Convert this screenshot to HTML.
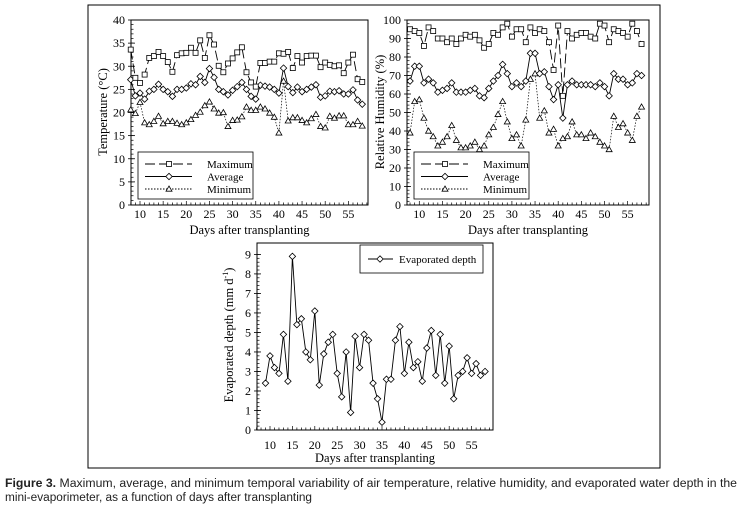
<!DOCTYPE html>
<html><head><meta charset="utf-8"><style>
html,body{margin:0;padding:0;background:#fff;}
svg{display:block;font-family:"Liberation Serif",serif;}
</style></head><body>
<svg id="fig" width="750" height="505" viewBox="0 0 750 505" xmlns="http://www.w3.org/2000/svg">
<rect x="88" y="5" width="572" height="463" fill="none" stroke="#000" stroke-width="1"/>
<g id="c1"></g>
<g id="c2"></g>
<g id="c3"></g>
<text x="5" y="487" font-family="Liberation Sans, sans-serif" font-size="11.5" fill="#222" textLength="732" lengthAdjust="spacingAndGlyphs"><tspan font-weight="bold">Figure 3.</tspan> Maximum, average, and minimum temporal variability of air temperature, relative humidity, and evaporated water depth in the</text>
<text x="5" y="501" font-family="Liberation Sans, sans-serif" font-size="11.5" fill="#222" textLength="307" lengthAdjust="spacingAndGlyphs">mini-evaporimeter, as a function of days after transplanting</text>
</svg>
<script>
const tempDays = [8,9,10,11,12,13,14,15,16,17,18,19,20,21,22,23,24,25,26,27,28,29,30,31,32,33,34,35,36,37,38,39,40,41,42,43,44,45,46,47,48,49,50,51,52,53,54,55,56,57,58];
const tempMax = [33.6,27.5,26.4,28.2,31.8,32.2,33.1,32.2,30.9,28.8,32.4,32.8,32.9,34.0,32.9,35.6,31.8,36.7,34.7,30.1,28.7,30.6,31.7,33.0,34.1,28.7,26.5,25.6,30.7,30.7,31.0,31.0,32.8,32.7,33.1,29.6,32.2,30.8,32.2,32.3,32.3,29.8,30.8,30.3,30.0,30.2,28.5,30.8,32.5,27.2,26.6];
const tempAvg = [27.1,23.6,24.2,22.9,24.6,25.0,26.1,25.0,24.5,23.5,25.0,25.0,25.3,26.2,26.0,27.8,26.5,29.5,27.6,25.0,24.5,23.8,24.8,25.6,26.5,25.0,23.5,22.9,25.9,25.7,25.5,25.0,24.2,29.6,25.6,24.3,25.5,24.5,25.0,25.5,26.0,23.3,23.6,24.6,24.5,24.7,24.0,24.0,24.9,22.7,21.8];
const tempMin = [20.6,19.8,22.2,17.8,17.4,18.1,19.2,17.6,18.1,18.1,17.7,17.4,17.8,18.5,19.4,20.1,21.5,22.3,20.8,19.9,20.0,17.0,18.3,18.4,19.1,21.2,20.5,20.5,21.2,20.8,19.9,19.0,15.6,26.8,18.2,18.9,18.9,18.3,17.8,18.7,19.6,17.0,16.7,19.2,18.8,19.3,19.3,17.4,17.4,18.1,17.1];
const tempTicks = [0,5,10,15,20,25,30,35,40];
const rhMax = [95,94,93,86,96,94,90,90,88,90,87,90,92,91,92,89,85,87,93,92,96,98,91,95,95,88,96,93,95,94,88,73,97,59,94,90,92,93,93,91,90,98,97,88,95,94,93,91,98,94,87];
const rhAvg = [67,75,75,66,68,66,61,62,63,66,61,61,61,62,63,59,58,63,67,70,76,71,64,66,64,67,82,82,71,72,64,57,65,47,65,67,65,65,65,65,64,66,64,59,71,68,68,65,66,71,70];
const rhMin = [39,56,57,47,40,37,32,34,37,43,35,31,31,32,34,30,32,38,42,49,56,45,36,38,32,46,68,71,47,51,39,41,32,36,37,45,38,38,36,39,37,34,32,30,48,42,44,39,35,48,53];
const rhTicks = [0,10,20,30,40,50,60,70,80,90,100];
const evapDays = [9,10,11,12,13,14,15,16,17,18,19,20,21,22,23,24,25,26,27,28,29,30,31,32,33,34,35,36,37,38,39,40,41,42,43,44,45,46,47,48,49,50,51,52,53,54,55,56,57,58];
const evapDepth = [2.4,3.8,3.2,2.9,4.9,2.5,8.9,5.4,5.7,4.0,3.6,6.1,2.3,3.9,4.5,4.9,2.9,1.7,4.0,0.9,4.8,3.2,4.9,4.6,2.4,1.6,0.4,2.6,2.6,4.6,5.3,2.9,4.5,3.2,3.5,2.5,4.2,5.1,2.8,4.9,2.4,4.3,1.6,2.8,3.0,3.7,2.9,3.4,2.8,3.0];
const evapTicks = [0,1,2,3,4,5,6,7,8,9];
const xTicks = [10,15,20,25,30,35,40,45,50,55];

const NS="http://www.w3.org/2000/svg";
function mk(parent,tag,attrs,text){const e=document.createElementNS(NS,tag);for(const k in attrs)e.setAttribute(k,attrs[k]);if(text!==undefined)e.textContent=text;parent.appendChild(e);return e;}
function marker(g,type,x,y){
  let m;
  if(type==='sq') m=mk(g,'rect',{x:x-2.5,y:y-2.5,width:5,height:5,fill:'#fff',stroke:'#000','stroke-width':0.8});
  else if(type==='di') m=mk(g,'polygon',{points:`${x},${y-3.2} ${x+3.2},${y} ${x},${y+3.2} ${x-3.2},${y}`,fill:'#fff',stroke:'#000','stroke-width':0.8});
  else m=mk(g,'polygon',{points:`${x},${y-3} ${x+3},${y+2.2} ${x-3},${y+2.2}`,fill:'#fff',stroke:'#000','stroke-width':0.8});
  return m;
}
function makeAxes(g,o){
  const sx=d=>o.x0+(d-o.d0)*o.dx, sy=v=>o.yb-(v-o.vmin)*(o.yb-o.yt)/(o.vmax-o.vmin);
  const frame=mk(g,'path',{d:`M${o.L},${o.yb} L${o.L},${o.T} L${o.R},${o.T} L${o.R},${o.yb} Z`,fill:'none',stroke:'#000','stroke-width':1});
  
  
  for(let d=Math.ceil(o.xmin);d<=o.xmax;d++){
    const t=mk(g,'line',{x1:sx(d),x2:sx(d),y1:o.yb,y2:o.yb-(d%5===0?4:2.5),stroke:'#000','stroke-width':0.7});
    
    
  }
  xTicks.forEach(d=>{
    const t=mk(g,'text',{x:sx(d),y:o.xly,'text-anchor':'middle','font-size':12},String(d));
    
    
  });
  const step=(o.ticks[1]-o.ticks[0])/o.minor;
  for(let v=o.vmin;v<=o.vmax+1e-9;v+=step){
    const t=mk(g,'line',{x1:o.L,x2:o.L+2.5,y1:sy(v),y2:sy(v),stroke:'#000','stroke-width':0.7});
    
    
  }
  o.ticks.forEach(v=>{
    const t=mk(g,'line',{x1:o.L-3,x2:o.L+4,y1:sy(v),y2:sy(v),stroke:'#000','stroke-width':0.8});
    
    
    const l=mk(g,'text',{x:o.L-6,y:sy(v)+4,'text-anchor':'end','font-size':12},String(v));
    
    
  });
  const xt=mk(g,'text',{x:(o.L+o.R)/2,y:o.xty,'text-anchor':'middle','font-size':12.5},'Days after transplanting');
  
  
  const yt=mk(g,'text',{x:0,y:0,'text-anchor':'middle','font-size':12.5,transform:`translate(${o.ytx},${o.yty}) rotate(-90)`});
  
  
  yt.innerHTML=o.ytitle;
  return {sx,sy};
}
function series(g,days,vals,sx,sy,type,dash,name){
  const pts=days.map((d,i)=>[sx(d),sy(vals[i])]);
  const line=mk(g,'polyline',{points:pts.map(p=>p.join(',')).join(' '),fill:'none',stroke:'#000','stroke-width':type==='tr'?0.7:0.9,'stroke-dasharray':dash});
  
  
  pts.forEach(p=>{
    const m=marker(g,type,p[0],p[1]);
    
    
  });
}
function legend3(g,x,y){
  const box=mk(g,'rect',{x:x,y:y,width:115,height:47,fill:'#fff',stroke:'#000','stroke-width':0.8});
  
  
  const rows=[['Maximum','sq','10 4'],['Average','di',''],['Minimum','tr','1.5 1.5']];
  rows.forEach((r,i)=>{
    const ry=y+12+i*12.5;
    const l=mk(g,'line',{x1:x+7,x2:x+54,y1:ry,y2:ry,stroke:'#000','stroke-width':0.9,'stroke-dasharray':r[2]});
    
    
    const m=marker(g,r[1],x+31,ry);
    
    
    const t=mk(g,'text',{x:x+69,y:ry+4,'font-size':11},r[0]);
    
    
  });
}
(function(){
  const g=document.getElementById('c1');
  const {sx,sy}=makeAxes(g,{L:131,R:368,T:20,yb:205,yt:20,vmin:0,vmax:40,x0:140,d0:10,dx:4.63,xmin:8,xmax:59,ticks:tempTicks,minor:5,xly:218,xty:234,ytx:107,yty:112,ytitle:'Temperature (°C)'});
  series(g,tempDays,tempMin,sx,sy,'tr','1.5 1.5','temp-min');
  series(g,tempDays,tempAvg,sx,sy,'di','','temp-avg');
  series(g,tempDays,tempMax,sx,sy,'sq','10 4','temp-max');
  legend3(g,138,152);
})();
(function(){
  const g=document.getElementById('c2');
  const {sx,sy}=makeAxes(g,{L:407,R:649,T:20,yb:205,yt:20,vmin:0,vmax:100,x0:419.3,d0:10,dx:4.63,xmin:8,xmax:59,ticks:rhTicks,minor:5,xly:218,xty:234,ytx:384,yty:112,ytitle:'Relative Humidity  (%)'});
  series(g,tempDays,rhMin,sx,sy,'tr','1.5 1.5','rh-min');
  series(g,tempDays,rhAvg,sx,sy,'di','','rh-avg');
  series(g,tempDays,rhMax,sx,sy,'sq','10 4','rh-max');
  legend3(g,414,152);
})();
(function(){
  const g=document.getElementById('c3');
  const {sx,sy}=makeAxes(g,{L:257,R:493,T:243,yb:430,yt:251.7+(430-427.3),vmin:0,vmax:9,x0:270,d0:10,dx:4.48,xmin:7,xmax:59,ticks:evapTicks,minor:5,xly:449,xty:462,ytx:233,yty:335,ytitle:'Evaporated depth   (mm d<tspan font-size="8" dy="-5">-1</tspan><tspan dy="5">)</tspan>'});
  series(g,evapDays,evapDepth,sx,sy,'di','','evap');
  const box=mk(g,'rect',{x:360,y:245,width:123,height:28,fill:'#fff',stroke:'#000','stroke-width':0.8});
  
  
  const l=mk(g,'line',{x1:368,x2:393,y1:259,y2:259,stroke:'#000','stroke-width':0.9});
  
  
  const m=marker(g,'di',380,259);
  
  
  const t=mk(g,'text',{x:399,y:263,'font-size':11},'Evaporated depth');
  
  
})();
</script>
</body></html>
